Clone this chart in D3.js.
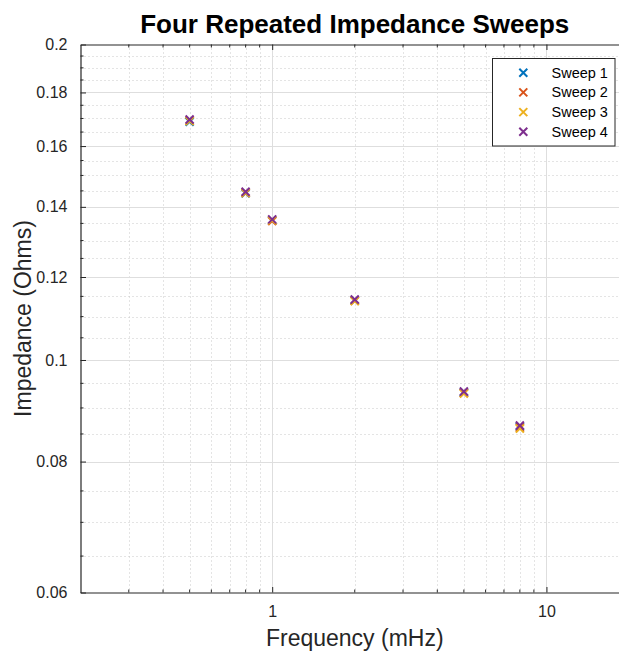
<!DOCTYPE html>
<html>
<head>
<meta charset="utf-8">
<script src="https://cdn.jsdelivr.net/npm/d3@7"></script>
<style>
  body { margin: 0; background: #fff; }
  svg { display: block; overflow: hidden; }
  text { font-family: "Liberation Sans", Arial, Helvetica, sans-serif; }
</style>
</head>
<body>
<script>
// ---- data ----
const frequencies = [0.5, 0.8, 1, 2, 5, 8];            // mHz
const sweep1 = [0.1688, 0.1442, 0.1359, 0.1140, 0.0931, 0.0864];
const sweep2 = [0.1692, 0.1444, 0.1357, 0.1139, 0.0930, 0.0862];
const sweep3 = [0.1690, 0.1443, 0.1359, 0.1138, 0.0929, 0.0860];
const sweep4 = [0.1696, 0.1447, 0.1362, 0.1142, 0.0933, 0.0866];
const seriesNames = ["Sweep 1", "Sweep 2", "Sweep 3", "Sweep 4"];
const seriesColors = ["#0072BD", "#D95319", "#EDB120", "#7E2F8E"];
const yTickValues = [0.06, 0.08, 0.1, 0.12, 0.14, 0.16, 0.18, 0.2];
const yTickLabels = ["0.06", "0.08", "0.1", "0.12", "0.14", "0.16", "0.18", "0.2"];
const xTickValues = [1, 10];
const xTickLabels = ["1", "10"];
const xDomain = [0.2, 20];
const yDomain = [0.06, 0.2];

const W = 619, H = 653;
const margin = { left: 80.5, top: 44.5, right: 629, bottom: 592.5 };

const svg = d3.select("body").append("svg").attr("width", W).attr("height", H);

const x = d3.scaleLog().domain(xDomain).range([margin.left, margin.right]);
const y = d3.scaleLog().domain(yDomain).range([margin.bottom, margin.top]);

// minor values
const xMinor = [];
[0.1, 1, 10].forEach(d => { for (let k = 2; k <= 9; k++) { const v = +(d * k).toPrecision(3); if (v > xDomain[0] && v < xDomain[1]) xMinor.push(v); } });
xMinor.push(20);
const yMinor = [];
for (let i = 0; i <= 28; i++) { const v = +(0.06 + i * 0.005).toFixed(3); if (Math.round(v * 1000) % 20 !== 0) yMinor.push(v); }

const g = svg.append("g");
// minor grid
g.selectAll(".xmg").data(xMinor).enter().append("line")
  .attr("x1", d => Math.round(x(d)) + 0.5).attr("x2", d => Math.round(x(d)) + 0.5)
  .attr("y1", margin.top).attr("y2", margin.bottom)
  .attr("stroke", "#c8c8c8").attr("stroke-width", 1).attr("stroke-dasharray", "1,3");
g.selectAll(".ymg").data(yMinor).enter().append("line")
  .attr("y1", d => Math.round(y(d)) + 0.5).attr("y2", d => Math.round(y(d)) + 0.5)
  .attr("x1", margin.left).attr("x2", margin.right)
  .attr("stroke", "#c8c8c8").attr("stroke-width", 1).attr("stroke-dasharray", "1,3");
// major grid
g.selectAll(".xg").data(xTickValues).enter().append("line")
  .attr("x1", d => Math.round(x(d)) + 0.5).attr("x2", d => Math.round(x(d)) + 0.5)
  .attr("y1", margin.top).attr("y2", margin.bottom)
  .attr("stroke", "#dedede").attr("stroke-width", 1);
g.selectAll(".yg").data(yTickValues.slice(1, -1)).enter().append("line")
  .attr("y1", d => Math.round(y(d)) + 0.5).attr("y2", d => Math.round(y(d)) + 0.5)
  .attr("x1", margin.left).attr("x2", margin.right)
  .attr("stroke", "#dedede").attr("stroke-width", 1);

// axes
const axisColor = "#262626";
const bottomAxis = d3.axisBottom(x).tickValues(xTickValues).tickFormat((d, i) => xTickLabels[i]).tickSizeInner(-5.5).tickSizeOuter(0).tickPadding(13);
const gx = svg.append("g").attr("transform", `translate(0,${margin.bottom})`).call(bottomAxis);
const leftAxis = d3.axisLeft(y).tickValues(yTickValues).tickFormat((d, i) => yTickLabels[i]).tickSizeInner(-5.5).tickSizeOuter(0).tickPadding(13);
const gy = svg.append("g").attr("transform", `translate(${margin.left},0)`).call(leftAxis);
[gx, gy].forEach(a => {
  a.select(".domain").attr("stroke", axisColor).attr("stroke-width", 1.2);
  a.selectAll(".tick line").attr("stroke", axisColor);
  a.selectAll(".tick text").attr("fill", axisColor).style("font-size", "16px");
});
// top border with ticks
const topAxis = d3.axisTop(x).tickValues(xTickValues).tickFormat("").tickSizeInner(-5.5).tickSizeOuter(0);
const gt = svg.append("g").attr("transform", `translate(0,${margin.top})`).call(topAxis);
gt.select(".domain").attr("stroke", axisColor).attr("stroke-width", 1.2);
gt.selectAll(".tick line").attr("stroke", axisColor);

// minor ticks
svg.append("g").selectAll("line").data(xMinor).enter().append("line")
  .attr("x1", d => x(d)).attr("x2", d => x(d)).attr("y1", margin.bottom).attr("y2", margin.bottom - 3)
  .attr("stroke", axisColor);
svg.append("g").selectAll("line").data(xMinor).enter().append("line")
  .attr("x1", d => x(d)).attr("x2", d => x(d)).attr("y1", margin.top).attr("y2", margin.top + 3)
  .attr("stroke", axisColor);
svg.append("g").selectAll("line").data(yMinor).enter().append("line")
  .attr("y1", d => y(d)).attr("y2", d => y(d)).attr("x1", margin.left).attr("x2", margin.left + 3)
  .attr("stroke", axisColor);

// labels
svg.append("text").attr("x", (margin.left + margin.right) / 2).attr("y", 33)
  .attr("text-anchor", "middle").style("font-size", "26px").style("font-weight", "bold").attr("fill", "#000")
  .text("Four Repeated Impedance Sweeps");
svg.append("text").attr("x", (margin.left + margin.right) / 2).attr("y", 646)
  .attr("text-anchor", "middle").style("font-size", "23px").attr("fill", axisColor)
  .text("Frequency (mHz)");
svg.append("text").attr("transform", `translate(31,${(margin.top + margin.bottom) / 2}) rotate(-90)`)
  .attr("text-anchor", "middle").style("font-size", "23px").attr("fill", axisColor)
  .text("Impedance (Ohms)");

// markers
const allSeries = [sweep1, sweep2, sweep3, sweep4];
const ms = 4;
function drawX(sel, cx, cy, color) {
  sel.append("path")
    .attr("d", `M${cx - ms},${cy - ms}L${cx + ms},${cy + ms}M${cx - ms},${cy + ms}L${cx + ms},${cy - ms}`)
    .attr("stroke", color).attr("stroke-width", 2).attr("fill", "none");
}
const marks = svg.append("g");
allSeries.forEach((s, si) => {
  s.forEach((v, i) => drawX(marks, x(frequencies[i]), y(v), seriesColors[si]));
});

// legend
const lg = svg.append("g");
lg.append("rect").attr("x", 492.5).attr("y", 58.5).attr("width", 122.5).attr("height", 87.5)
  .attr("fill", "#fff").attr("stroke", axisColor).attr("stroke-width", 1);
seriesNames.forEach((n, i) => {
  const cy = 72.7 + i * 19.7;
  drawX(lg, 523.3, cy, seriesColors[i]);
  lg.append("text").attr("x", 551.5).attr("y", cy + 5).style("font-size", "14.5px").attr("fill", "#000").text(n);
});
</script>
</body>
</html>
